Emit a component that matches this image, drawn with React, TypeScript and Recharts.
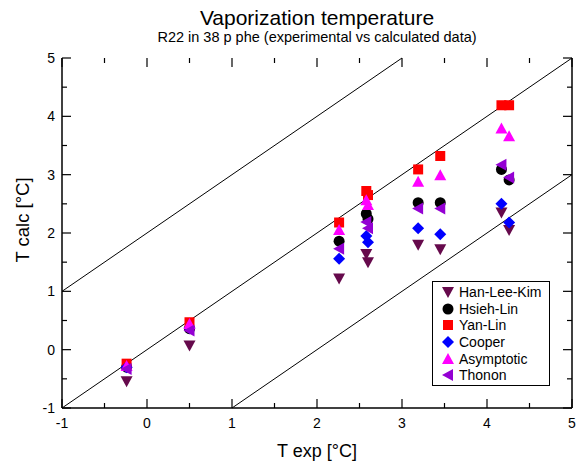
import { ScatterChart, Scatter, XAxis, YAxis, ReferenceLine } from 'recharts';

const FONT = '"Liberation Sans", Arial, Helvetica, sans-serif';

// experimental temperatures (x) shared by all correlations
const T_EXP = [-0.24, 0.5, 2.26, 2.58, 2.6, 3.19, 3.45, 4.17, 4.26];

// calculated temperatures per correlation
const HAN_LEE_KIM = [-0.54, 0.07, 1.22, 1.64, 1.5, 1.8, 1.72, 2.35, 2.05];
const HSIEH_LIN = [-0.3, 0.36, 1.86, 2.33, 2.24, 2.52, 2.52, 3.09, 2.91];
const YAN_LIN = [-0.24, 0.47, 2.18, 2.72, 2.65, 3.09, 3.32, 4.19, 4.19];
const COOPER = [-0.3, 0.37, 1.56, 1.95, 1.84, 2.08, 1.98, 2.5, 2.18];
const ASYMPTOTIC = [-0.28, 0.44, 2.05, 2.56, 2.48, 2.88, 2.99, 3.79, 3.66];
const THONON = [-0.33, 0.33, 1.73, 2.19, 2.08, 2.42, 2.42, 3.17, 2.95];

const MAJOR_TICKS = [-1, 0, 1, 2, 3, 4, 5];
const MINOR_TICKS = [-0.5, 0.5, 1.5, 2.5, 3.5, 4.5];

// parity line and +/-2 °C band
const PARITY_LINES = [
  [{ x: -1, y: 1 }, { x: 3, y: 5 }],
  [{ x: -1, y: -1 }, { x: 5, y: 5 }],
  [{ x: 1, y: -1 }, { x: 5, y: 3 }],
];

const SERIES = [
  { name: 'Han-Lee-Kim', values: HAN_LEE_KIM, color: '#660a4c', shape: 'down' },
  { name: 'Hsieh-Lin', values: HSIEH_LIN, color: '#000000', shape: 'circle' },
  { name: 'Yan-Lin', values: YAN_LIN, color: '#ff0000', shape: 'square' },
  { name: 'Cooper', values: COOPER, color: '#0000ff', shape: 'diamond' },
  { name: 'Asymptotic', values: ASYMPTOTIC, color: '#ff00ff', shape: 'up' },
  { name: 'Thonon', values: THONON, color: '#9400d3', shape: 'left' },
];

const LO = -1;
const HI = 5;
const PLOT_W = 510;
const PLOT_H = 350;

function Marker({ cx, cy, shape, color }: any) {
  switch (shape) {
    case 'circle':
      return <circle cx={cx} cy={cy} r={5.5} fill={color} />;
    case 'square':
      return <rect x={cx - 5} y={cy - 5} width={10} height={10} fill={color} />;
    case 'diamond':
      return <polygon points={`${cx},${cy - 6} ${cx + 6},${cy} ${cx},${cy + 6} ${cx - 6},${cy}`} fill={color} />;
    case 'up':
      return <polygon points={`${cx},${cy - 6} ${cx + 6},${cy + 5} ${cx - 6},${cy + 5}`} fill={color} />;
    case 'down':
      return <polygon points={`${cx - 6},${cy - 5} ${cx + 6},${cy - 5} ${cx},${cy + 6}`} fill={color} />;
    case 'left':
      return <polygon points={`${cx - 6},${cy} ${cx + 5},${cy - 6} ${cx + 5},${cy + 6}`} fill={color} />;
    default:
      return null;
  }
}

// inward tick marks on all four sides, length in px converted to data units
const tickSegments = () => {
  const segs: any[] = [];
  const add = (vals: number[], px: number) => {
    const lx = (px * (HI - LO)) / PLOT_W;
    const ly = (px * (HI - LO)) / PLOT_H;
    vals.forEach((v) => {
      segs.push([{ x: v, y: LO }, { x: v, y: LO + ly }]);
      segs.push([{ x: v, y: HI }, { x: v, y: HI - ly }]);
      segs.push([{ x: LO, y: v }, { x: LO + lx, y: v }]);
      segs.push([{ x: HI, y: v }, { x: HI - lx, y: v }]);
    });
  };
  add(MAJOR_TICKS, 9);
  add(MINOR_TICKS, 5);
  return segs;
};

const BottomLabel = ({ x, y, payload }: any) => (
  <text x={x} y={y + 20} textAnchor="middle" fontSize={14} fontFamily={FONT} fill="#000">
    {payload.value}
  </text>
);

const LeftLabel = ({ x, y, payload }: any) => (
  <text x={x - 7} y={y + 5} textAnchor="end" fontSize={14} fontFamily={FONT} fill="#000">
    {payload.value}
  </text>
);

const LegendBox = () => (
  <div
    style={{
      position: 'absolute',
      left: 432,
      top: 281,
      border: '1px solid #000',
      background: '#fff',
      width: 118,
      height: 105,
      boxSizing: 'border-box',
      padding: '2px 0 0 8px',
      fontFamily: FONT,
      fontSize: 14,
      color: '#000',
    }}
  >
    {SERIES.map((s) => (
      <div key={s.name} style={{ display: 'flex', alignItems: 'center', height: 16.6 }}>
        <svg width={14} height={14} style={{ marginRight: 4 }}>
          <Marker cx={7} cy={7} shape={s.shape} color={s.color} />
        </svg>
        <span>{s.name}</span>
      </div>
    ))}
  </div>
);

const axisLine = { stroke: '#000', strokeWidth: 1.5 };
const common = { type: 'number' as const, domain: [LO, HI], interval: 0 as const, tickLine: false, tickSize: 0, tickMargin: 0 };

export default function App() {
  return (
    <div style={{ position: 'absolute', left: 0, top: 0, width: 583, height: 462, background: '#fff', fontFamily: FONT }}>
      <div style={{ position: 'absolute', left: 317, top: 6, transform: 'translateX(-50%)', whiteSpace: 'nowrap', fontSize: 21, lineHeight: '24px' }}>
        Vaporization temperature
      </div>
      <div style={{ position: 'absolute', left: 317, top: 29, transform: 'translateX(-50%)', whiteSpace: 'nowrap', fontSize: 14.5, lineHeight: '17px' }}>
        R22 in 38 p phe (experimental vs calculated data)
      </div>

      <ScatterChart width={583} height={462} margin={{ top: 58, right: 0, bottom: 0, left: 0 }}>
        <XAxis dataKey="x" {...common} ticks={MAJOR_TICKS} height={54} axisLine={axisLine} tick={<BottomLabel />} />
        <XAxis xAxisId="top" orientation="top" {...common} ticks={MAJOR_TICKS} height={0} axisLine={axisLine} tick={false} />
        <YAxis dataKey="y" {...common} ticks={MAJOR_TICKS} width={62} axisLine={axisLine} tick={<LeftLabel />} />
        <YAxis yAxisId="right" orientation="right" {...common} ticks={MAJOR_TICKS} width={11} axisLine={axisLine} tick={false} />

        {tickSegments().map((seg, i) => (
          <ReferenceLine key={`t${i}`} segment={seg} stroke="#000" strokeWidth={1.2} ifOverflow="visible" />
        ))}

        {PARITY_LINES.map((seg, i) => (
          <ReferenceLine key={i} segment={seg} stroke="#000" strokeWidth={1} />
        ))}

        {SERIES.map((s) => (
          <Scatter
            key={s.name}
            name={s.name}
            data={T_EXP.map((x, i) => ({ x, y: s.values[i] }))}
            fill={s.color}
            isAnimationActive={false}
            shape={(p: any) => <Marker cx={p.cx} cy={p.cy} shape={s.shape} color={s.color} />}
          />
        ))}
      </ScatterChart>

      <LegendBox />

      <div style={{ position: 'absolute', left: 317, top: 441, transform: 'translateX(-50%)', whiteSpace: 'nowrap', fontSize: 18, lineHeight: '21px' }}>
        T exp [°C]
      </div>
      <div style={{ position: 'absolute', left: 22, top: 220, transform: 'translate(-50%, -50%) rotate(-90deg)', whiteSpace: 'nowrap', fontSize: 18.5, lineHeight: '21px' }}>
        T calc [°C]
      </div>
    </div>
  );
}
